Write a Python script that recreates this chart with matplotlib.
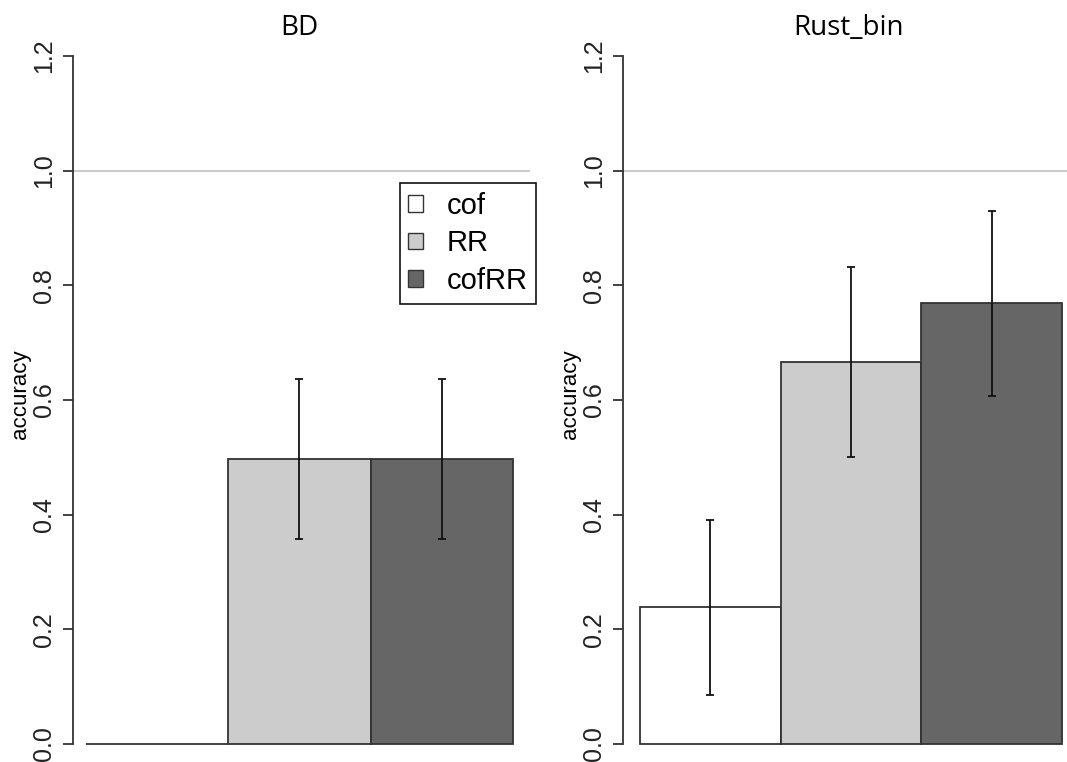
import numpy as np
import matplotlib
matplotlib.use('Agg')
import matplotlib.pyplot as plt
from matplotlib.patches import Patch

# accuracy per method, with lower/upper limits of the interval
metodit = ['cof', 'RR', 'cofRR']
värit = ['#FFFFFF', '#CCCCCC', '#666666']

paneelit = ['BD', 'Rust_bin']
tarkkuus = {
    'BD':       [0.0,   0.497, 0.497],
    'Rust_bin': [0.239, 0.667, 0.770],
}
alaraja = {
    'BD':       [np.nan, 0.358, 0.358],
    'Rust_bin': [0.086,  0.501, 0.607],
}
yläraja = {
    'BD':       [np.nan, 0.637, 0.637],
    'Rust_bin': [0.391,  0.832, 0.930],
}

W, H = 1067, 762
plt.rcParams.update({'font.family': ['Liberation Sans', 'DejaVu Sans']})
fig = plt.figure(figsize=(W/100, H/100), dpi=100)

# plot regions in pixels: (axis x, right edge x, first bar x, px per bar)
y0_px, yskaala = 744, 573.3
alueet = [(73, 530, 86, 142.3), (623, 1079, 640, 140.7)]
ylim = (-0.01, 1.25)

def px2fig(x, y):
    return x / W, 1 - y / H

for i, nimi in enumerate(paneelit):
    xa, xb, xbar, pxu = alueet[i]
    ytop = y0_px - ylim[1] * yskaala
    ybot = y0_px - ylim[0] * yskaala
    ax = fig.add_axes([xa / W, 1 - ybot / H, (xb - xa) / W, (ybot - ytop) / H])
    ax.set_ylim(*ylim)
    ax.set_xlim(-(xbar - xa) / pxu, 3 + (xb - xbar - 3 * pxu) / pxu)

    ax.axhline(1.0, color='#C8C8C8', lw=1.4, zorder=0)

    pos = np.arange(3) + 0.5
    ax.bar(pos, tarkkuus[nimi], width=1.0, color=värit,
           edgecolor='#333333', linewidth=1.3, zorder=2)
    ala = np.array(alaraja[nimi])
    ylä = np.array(yläraja[nimi])
    arvot = np.array(tarkkuus[nimi])
    ok = ~np.isnan(ala)
    ax.errorbar(pos[ok], arvot[ok], yerr=[arvot[ok] - ala[ok], ylä[ok] - arvot[ok]],
                fmt='none', ecolor='#111111', elinewidth=1.3, capsize=3,
                capthick=1.3, zorder=3)

    for s in ['top', 'right', 'bottom']:
        ax.spines[s].set_visible(False)
    ax.spines['left'].set_bounds(0, 1.2)
    ax.spines['left'].set_color('#333333')
    ax.spines['left'].set_linewidth(1.3)
    ax.set_xticks([])
    ax.set_yticks(np.arange(0, 1.21, 0.2))
    ax.set_yticklabels(['%.1f' % v for v in np.arange(0, 1.21, 0.2)],
                       rotation=90, va='center', fontsize=18, color='#222222')
    ax.tick_params(axis='y', length=7, width=1.3, color='#333333', pad=5)

    fig.text(*px2fig((xa + xb) / 2 - 2, 28), nimi, ha='center', va='center',
             fontsize=20, family=['Open Sans', 'DejaVu Sans'])
    fig.text(*px2fig(xa - 52, 394), 'accuracy', rotation=90,
             ha='center', va='center', fontsize=16)

    if i == 0:
        kahvat = [Patch(facecolor=c, edgecolor='#333333', linewidth=1.0) for c in värit]
        leg = fig.legend(kahvat, metodit, loc='upper right',
                         bbox_to_anchor=px2fig(536, 183), fontsize=21,
                         frameon=True, fancybox=False, framealpha=1,
                         edgecolor='#111111', handlelength=0.5, handleheight=0.5,
                         handletextpad=0.8, labelspacing=0.33, borderpad=0.3,
                         borderaxespad=0)
        leg.get_frame().set_linewidth(1.2)

fig.savefig('out.png', dpi=100)
